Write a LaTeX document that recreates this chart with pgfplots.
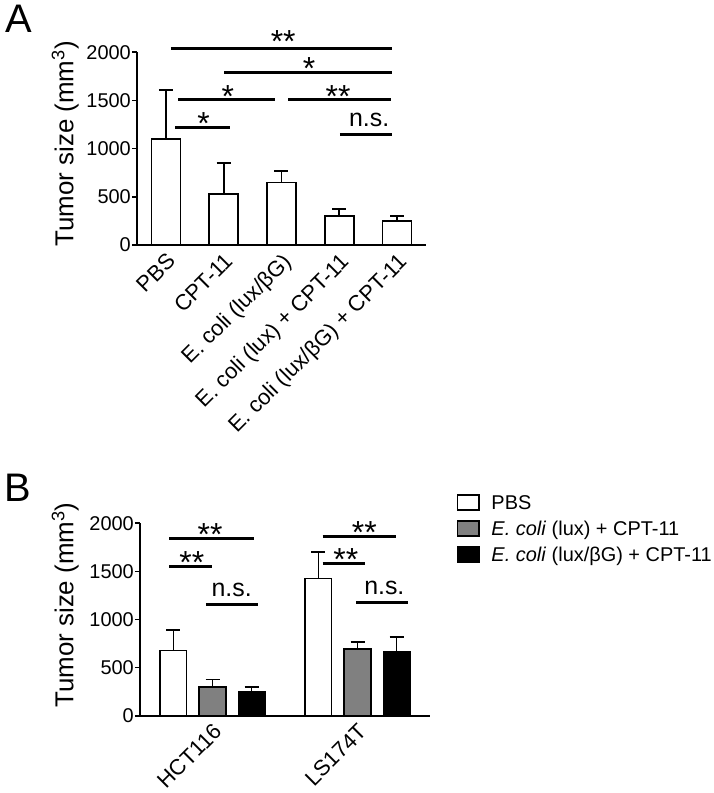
\documentclass[border=0pt]{standalone}
\usepackage{fontspec}
\setmainfont{Liberation Sans}
\usepackage{pgfplots}
\usepackage{pgfplotstable}
\pgfplotsset{compat=1.18}

\pgfplotstableread{
x  y     e
0  1097  513
1  532   316
2  647   124
3  301   73
4  252   49
}\dataA

\pgfplotstableread{
x      y     e
-0.27  676   212
0.73   1428  274
}\dataPBS
\pgfplotstableread{
x      y     e
0      301   77
1      693   73
}\dataGray
\pgfplotstableread{
x      y     e
0.27   253   45
1.27   669   149
}\dataBlack

\tikzset{
  sig/.style={line width=3bp, black},
  star/.style={font=\fontsize{32}{32}\selectfont, inner sep=0pt, anchor=base, yshift=-18bp},
  ns/.style={font=\fontsize{25}{25}\selectfont, inner sep=0pt, anchor=base},
}
\pgfplotsset{
  common/.style={
    scale only axis,
    axis x line*=bottom, axis y line*=left,
    axis line style={line width=1.6bp, black},
    tick style={line width=1.6bp, black},
    major tick length=5bp, tick align=outside,
    ymin=0, ymax=2000, ytick={0,500,1000,1500,2000},
    /pgf/number format/assume math mode=true,
    /pgf/number format/1000 sep={},
    yticklabel style={font=\fontsize{20}{20}\selectfont, inner sep=1bp},
    xticklabel style={font=\fontsize{22}{22}\selectfont, rotate=45, anchor=north east, inner sep=1bp},
    xtick style={draw=none},
    clip=false,
    ylabel style={font=\fontsize{26}{26}\selectfont, anchor=base},
    error bars/y dir=plus, error bars/y explicit,
    error bars/error bar style={line width=1.6bp, black},
    error bars/error mark options={rotate=90, mark size=7bp, line width=1.6bp, black},
  },
}

\begin{document}
\begin{tikzpicture}
\path[use as bounding box] (0bp,0bp) rectangle (714bp,793bp);

\node[font=\fontsize{40}{40}\selectfont, inner sep=0pt] at (18.3bp,774bp) {A};
\node[font=\fontsize{40}{40}\selectfont, inner sep=0pt] at (17.5bp,305.5bp) {B};

% ---------------- Panel A ----------------
\begin{axis}[common, at={(137bp,548bp)}, anchor=south west,
  width=289bp, height=192.7bp,
  xmin=-0.5, xmax=4.5, xtick={0,1,2,3,4},
  xticklabels={{PBS},{CPT-11},{E. coli (lux/βG)},{E. coli (lux) + CPT-11},{E. coli (lux/βG) + CPT-11}},
  ylabel={Tumor size (mm\textsuperscript{3})},
  ylabel style={at={(axis description cs:-0.2204,0.524)}},
]
\addplot[ybar, bar width=0.5, bar shift=0pt, fill=white, draw=black, line width=1.6bp]
  table[x=x, y=y, y error=e] {\dataA};

\draw[sig] (axis cs:0.085,2041) -- (axis cs:3.915,2041);
\draw[sig] (axis cs:1.01,1788) -- (axis cs:3.915,1788);
\draw[sig] (axis cs:0.216,1505) -- (axis cs:1.89,1505);
\draw[sig] (axis cs:2.12,1505) -- (axis cs:3.89,1505);
\draw[sig] (axis cs:0.16,1217) -- (axis cs:1.11,1217);
\draw[sig] (axis cs:3.01,1149) -- (axis cs:3.92,1149);
\node[star] at (axis cs:2.03,2187) {**};
\node[star] at (axis cs:2.475,1902) {*};
\node[star] at (axis cs:1.07,1619) {*};
\node[star] at (axis cs:2.98,1619) {**};
\node[star] at (axis cs:0.65,1332) {*};
\node[ns] at (axis cs:3.516,1235) {n.s.};
\end{axis}

% ---------------- Panel B ----------------
\begin{axis}[common, at={(140bp,77.3bp)}, anchor=south west,
  width=290bp, height=192.4bp,
  xmin=-0.5, xmax=1.5, xtick={0,1},
  xticklabels={{HCT116},{LS174T}},
  ylabel={Tumor size (mm\textsuperscript{3})},
  ylabel style={at={(axis description cs:-0.23,0.575)}},
  legend image code/.code={\draw[#1, line width=1.6bp] (0bp,-0.3bp) rectangle (21.5bp,14.7bp); \path (33.2bp,0bp);},
  legend style={draw=none, fill=none, at={(axis description cs:1.092,1.152)}, anchor=north west,
    inner sep=0pt, outer sep=0pt, font=\fontsize{20}{20}\selectfont,
    row sep=5.7bp, column sep=0pt,
    nodes={inner sep=0pt, text height=15bp, text depth=5bp},
    cells={anchor=base west}},
]
\addplot[ybar, bar width=0.183, bar shift=0pt, fill=white, draw=black, line width=1.6bp]
  table[x=x, y=y, y error=e] {\dataPBS};
\addlegendentry{PBS}
\addplot[ybar, bar width=0.183, bar shift=0pt, fill=black!50, draw=black, line width=1.6bp]
  table[x=x, y=y, y error=e] {\dataGray};
\addlegendentry{\textit{E. coli} (lux) + CPT-11}
\addplot[ybar, bar width=0.183, bar shift=0pt, fill=black, draw=black, line width=1.6bp]
  table[x=x, y=y, y error=e] {\dataBlack};
\addlegendentry{\textit{E. coli} (lux/βG) + CPT-11}

\draw[sig] (axis cs:-0.298,1837) -- (axis cs:0.288,1837);
\draw[sig] (axis cs:-0.298,1553) -- (axis cs:-0.005,1553);
\draw[sig] (axis cs:-0.045,1154) -- (axis cs:0.312,1154);
\draw[sig] (axis cs:0.76,1858) -- (axis cs:1.268,1858);
\draw[sig] (axis cs:0.76,1580) -- (axis cs:1.052,1580);
\draw[sig] (axis cs:0.99,1175) -- (axis cs:1.346,1175);
\node[star] at (axis cs:-0.017,1956) {**};
\node[star] at (axis cs:-0.143,1670) {**};
\node[star] at (axis cs:1.047,1979) {**};
\node[star] at (axis cs:0.919,1693) {**};
\node[ns] at (axis cs:0.132,1237) {n.s.};
\node[ns] at (axis cs:1.185,1265) {n.s.};
\end{axis}
\end{tikzpicture}
\end{document}
